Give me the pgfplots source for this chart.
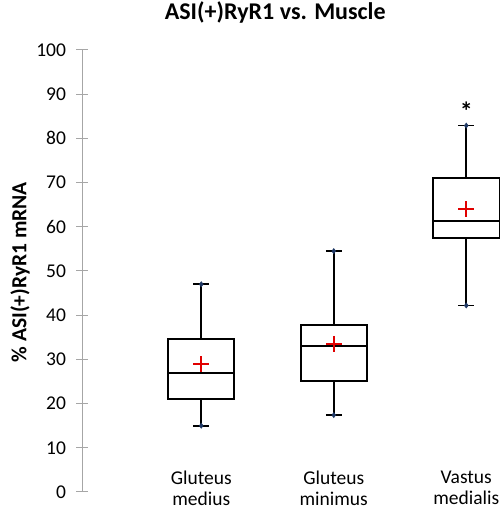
\documentclass[border=0pt]{standalone}
\usepackage{pgfplots}
\pgfplotsset{compat=1.18}
\usepgfplotslibrary{statistics}
\usepackage{fontspec}
\setmainfont{Carlito}
\definecolor{axgray}{HTML}{A6A6A6}
\definecolor{meanred}{HTML}{E00000}
\definecolor{navy}{HTML}{1F3864}
\begin{document}
\begin{tikzpicture}[x=1pt,y=1pt]
\begin{axis}[
  scale only axis,
  width=417.4pt, height=442pt,
  xmin=0.1, xmax=3.25,
  ymin=0, ymax=100,
  axis y line*=left, axis x line*=bottom,
  x axis line style={draw=none},
  y axis line style={axgray, line width=1pt, -},
  xtick={1,2,3},
  xticklabels={{Gluteus\\medius},{Gluteus\\minimus},{Vastus\\medialis}},
  xtick style={draw=none},
  xticklabel style={align=center, font=\fontsize{19.5}{21}\selectfont, anchor=north, yshift=21pt, inner sep=0pt},
  ytick={0,10,...,100},
  ytick style={axgray, line width=1pt},
  ytick align=center,
  major tick length=11pt,
  yticklabel style={font=\fontsize{19.5}{22}\selectfont, xshift=-7pt},
  /pgf/number format/assume math mode=true,
  title={\textbf{ASI(+)RyR1 vs. Muscle}},
  title style={font=\fontsize{24}{28}\selectfont, at={(axis description cs:0.463,1)}, anchor=center, yshift=32pt},
  ylabel={\textbf{\% ASI(+)RyR1 mRNA}},
  every axis y label/.style={at={(axis description cs:0,0.497)}, xshift=-62pt, rotate=90, anchor=center, font=\fontsize{21.5}{24}\selectfont},
  clip=false,
  boxplot/draw direction=y,
  boxplot/box extend=0.5,
  boxplot/whisker extend=0.12,
  boxplot/every box/.style={line width=1.8pt},
  boxplot/every whisker/.style={line width=1.8pt},
  boxplot/every median/.style={line width=1.8pt},
]
\addplot+[black, line width=1.8pt, mark=none, boxplot prepared={
  lower whisker=15, lower quartile=21.0, median=26.9, upper quartile=34.6, upper whisker=47.0, draw position=1}] coordinates {};
\addplot+[black, line width=1.8pt, mark=none, boxplot prepared={
  lower whisker=17.4, lower quartile=25.1, median=33.0, upper quartile=37.7, upper whisker=54.5, draw position=2}] coordinates {};
\addplot+[black, line width=1.8pt, mark=none, boxplot prepared={
  lower whisker=42.2, lower quartile=57.5, median=61.4, upper quartile=71.0, upper whisker=82.9, draw position=3}] coordinates {};
% whisker end markers
\addplot[only marks, mark=diamond*, mark size=2.6pt, mark options={fill=navy, draw=navy, line width=0.5pt}]
  coordinates {(1,15) (1,47.0) (2,17.4) (2,54.5) (3,42.2) (3,82.9)};
% means
\addplot[only marks, mark=+, mark size=8pt, mark options={draw=meanred, line width=1.8pt}]
  coordinates {(1,28.9) (2,33.5) (3,64.0)};
\node[font=\fontsize{26}{30}\selectfont\bfseries] at (axis cs:3,86.2) {*};
\end{axis}
\pgfresetboundingbox
\path[use as bounding box] (-82pt,-18pt) rectangle (419pt,492pt);
\end{tikzpicture}
\end{document}
